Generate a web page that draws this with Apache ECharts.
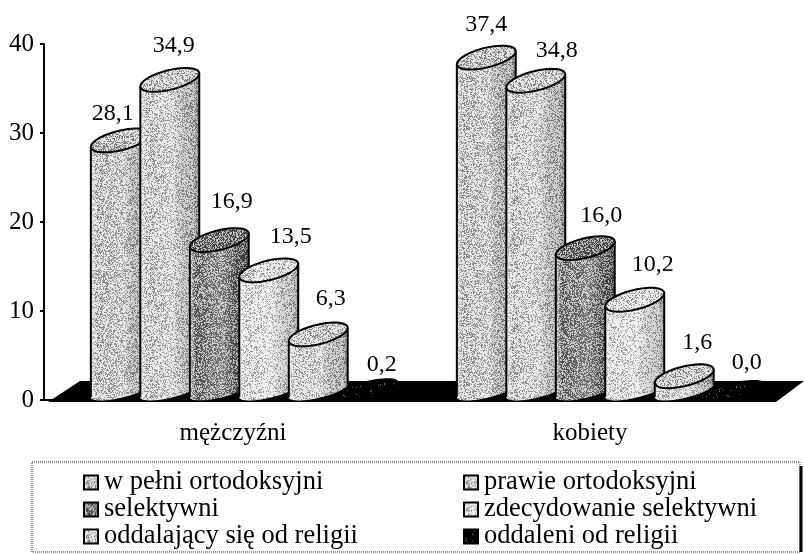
<!DOCTYPE html>
<html><head><meta charset="utf-8">
<style>html,body{margin:0;padding:0;background:#fff}#c{width:804px;height:554px}</style>
<script src="https://cdn.jsdelivr.net/npm/echarts@6/dist/echarts.min.js"></script>
</head><body><div id="c"></div>
<script>
// ---- data ----
const categories = ['mężczyźni', 'kobiety'];
const yTicks = [0, 10, 20, 30, 40];
const wPelniOrtodoksyjni = [28.1, 37.4];
const prawieOrtodoksyjni = [34.9, 34.8];
const selektywni = [16.9, 16.0];
const zdecydowanieSelektywni = [13.5, 10.2];
const oddalajacySie = [6.3, 1.6];
const oddaleni = [0.2, 0.0];
const seriesNames = ['w pełni ortodoksyjni', 'prawie ortodoksyjni', 'selektywni',
  'zdecydowanie selektywni', 'oddalający się od religii', 'oddaleni od religii'];
const seriesValues = [wPelniOrtodoksyjni, prawieOrtodoksyjni, selektywni,
  zdecydowanieSelektywni, oddalajacySie, oddaleni];

// ---- styling (label nudges per category / series, tones per series) ----
const labelDX = [[-7.5, 4, 12.5, 22, 12.5, 14], [0, 21, 16, 18, 13, 13]];
const labelDY = [[-33, -41, -45, -40, -42, -31], [-39, -37, -39, -42, -40, -34]];
const tones = [
  { level: 0.62, hi: 225, lo: 125 },
  { level: 0.66, hi: 228, lo: 130 },
  { level: 0.45, hi: 190, lo: 70 },
  { level: 0.74, hi: 235, lo: 140 },
  { level: 0.68, hi: 228, lo: 130 },
  { level: 0.03, hi: 110, lo: 0 }
];
const FONT = '"Liberation Serif","Times New Roman",serif';

function speckle(t) {
  const s = 128, cv = document.createElement('canvas');
  cv.width = cv.height = s;
  const ctx = cv.getContext('2d'), img = ctx.createImageData(s, s);
  for (let y = 0; y < s; y++) for (let x = 0; x < s; x++) {
    const h = Math.abs(Math.sin(x * 12.9898 + y * 78.233) * 43758.5453) % 1;
    const v = h < t.level ? t.hi : t.lo;
    const i = (y * s + x) * 4;
    img.data[i] = img.data[i + 1] = img.data[i + 2] = v;
    img.data[i + 3] = 255;
  }
  ctx.putImageData(img, 0, 0);
  return { image: cv, repeat: 'repeat' };
}
const patterns = tones.map(speckle);

function ellipsePts(cx, cy, ax, ay, by, from, to, n) {
  const pts = [];
  for (let k = 0; k <= n; k++) {
    const t = from + (to - from) * k / n;
    pts.push([cx + ax * Math.cos(t), cy + ay * Math.cos(t) + by * Math.sin(t)]);
  }
  return pts;
}

function cylinder(si) {
  return function (params, api) {
    const ci = api.value(0), v = api.value(1);
    const band = api.size([1, 0])[0];
    const w = band * 0.161, step = band * 0.1352, off = band * -0.372;
    const cBase = api.coord([ci, 0]), cTop = api.coord([ci, v]);
    const x0 = cBase[0] + off + si * step, x1 = x0 + w, xm = (x0 + x1) / 2;
    const rise = 13;
    const yB = cBase[1] - 3, yT = cTop[1] - 3;
    const ax = w / 2, ay = -rise / 2;
    const minor = v > 1 ? 10 : 7;
    const topC = yT - rise / 2, botC = yB - rise / 2;
    const topLow = ellipsePts(xm, topC, ax, ay, minor, 0, Math.PI, 24);   // right -> left through the front
    const botLow = ellipsePts(xm, botC, ax, ay, 7.5, Math.PI, 0, 24);     // left -> right through the front
    const disc = ellipsePts(xm, topC, ax, ay, minor, 0, Math.PI * 2, 48);
    const body = botLow.concat(topLow);
    const black = '#000';
    const kids = [];
    if (v > 1) {
      kids.push({ type: 'polygon', shape: { points: body }, style: { fill: patterns[si] } });
      kids.push({ type: 'polygon', shape: { points: body }, style: {
        fill: { type: 'linear', x: 0, y: 0, x2: 1, y2: 0, colorStops: [
          { offset: 0, color: 'rgba(255,255,255,0.6)' }, { offset: 0.1, color: 'rgba(255,255,255,0.05)' },
          { offset: 0.55, color: 'rgba(255,255,255,0.25)' }, { offset: 0.9, color: 'rgba(0,0,0,0.1)' }, { offset: 1, color: 'rgba(0,0,0,0.3)' }] } } });
      kids.push({ type: 'polyline', shape: { points: [botLow[0], topLow[24]] }, style: { stroke: black, lineWidth: 2, fill: 'none' } });
      kids.push({ type: 'polyline', shape: { points: [botLow[24], topLow[0]] }, style: { stroke: black, lineWidth: 2, fill: 'none' } });
    }
    kids.push({ type: 'polygon', shape: { points: disc }, style: { fill: patterns[si], stroke: black, lineWidth: 2 } });
    kids.push({ type: 'text', style: {
      text: v.toFixed(1).replace('.', ','), font: '24px ' + FONT, fill: '#000',
      x: xm + labelDX[ci][si], y: yT + labelDY[ci][si], align: 'center', verticalAlign: 'middle' } });
    return { type: 'group', children: kids };
  };
}

function floor(params) {
  const g = params.coordSys, y0 = g.y + g.height;
  return { type: 'polygon', shape: { points: [
    [g.x + 4, y0 + 2], [g.x + 36, y0 - 19], [g.x + g.width + 28, y0 - 19], [g.x + g.width, y0 + 2]] },
    style: { fill: '#000' } };
}

const series = [{ type: 'custom', name: 'floor', silent: true, renderItem: floor, data: [[0, 0]], encode: { x: 0, y: 1 }, z: 1 }]
  .concat(seriesNames.map((n, si) => ({
    type: 'custom', name: n, renderItem: cylinder(si), z: 3 + si,
    encode: { x: 0, y: 1 }, clip: false, itemStyle: { color: '#aaa' },
    data: categories.map((c, i) => [i, seriesValues[si][i]])
  })));

function legendData(idx) {
  return idx.map(i => ({ name: seriesNames[i], icon: 'rect',
    itemStyle: { color: patterns[i], borderColor: '#000', borderWidth: 2 } }));
}
const legendBase = { orient: 'vertical', top: 469, itemWidth: 14, itemHeight: 14, itemGap: 0,
  textStyle: { fontFamily: FONT, fontSize: 26.5, color: '#000', padding: [0, 0, 0, 1], lineHeight: 23 }, selectedMode: false, padding: 0 };

const chart = echarts.init(document.getElementById('c'), null, { renderer: 'canvas' });
chart.setOption({
  animation: false, backgroundColor: '#fff',
  grid: { left: 44, right: 28, top: 44, bottom: 154 },
  xAxis: { type: 'category', data: categories, boundaryGap: true,
    axisLine: { lineStyle: { color: '#000', width: 2 } }, axisTick: { length: 7, lineStyle: { color: '#000', width: 2 } },
    axisLabel: { fontFamily: FONT, fontSize: 25, color: '#000', margin: 21,
      formatter: (v, i) => '{c' + i + '|' + v + '}',
      rich: { c0: { fontFamily: FONT, fontSize: 25, color: '#000', padding: [0, 0, 0, 12] },
              c1: { fontFamily: FONT, fontSize: 25, color: '#000', padding: [0, 6, 0, 0] } } } },
  yAxis: { type: 'value', min: yTicks[0], max: yTicks[yTicks.length - 1], interval: yTicks[1] - yTicks[0],
    splitLine: { show: false },
    axisLine: { show: true, lineStyle: { color: '#000', width: 2 } },
    axisTick: { show: true, length: 4, lineStyle: { color: '#000', width: 2 } },
    axisLabel: { fontFamily: FONT, fontSize: 25, color: '#000', margin: 10 } },
  legend: [
    Object.assign({}, legendBase, { left: 83, data: legendData([0, 2, 4]) }),
    Object.assign({}, legendBase, { left: 463, data: legendData([1, 3, 5]) })
  ],
  graphic: [
    { type: 'rect', shape: { x: 32, y: 462, width: 768, height: 90 }, style: { fill: 'none', stroke: '#222', lineWidth: 1, lineDash: [1, 1] } },
    { type: 'line', shape: { x1: 801, y1: 466, x2: 801, y2: 552 }, style: { stroke: '#000', lineWidth: 3 } }
  ],
  series
});
</script></body></html>
